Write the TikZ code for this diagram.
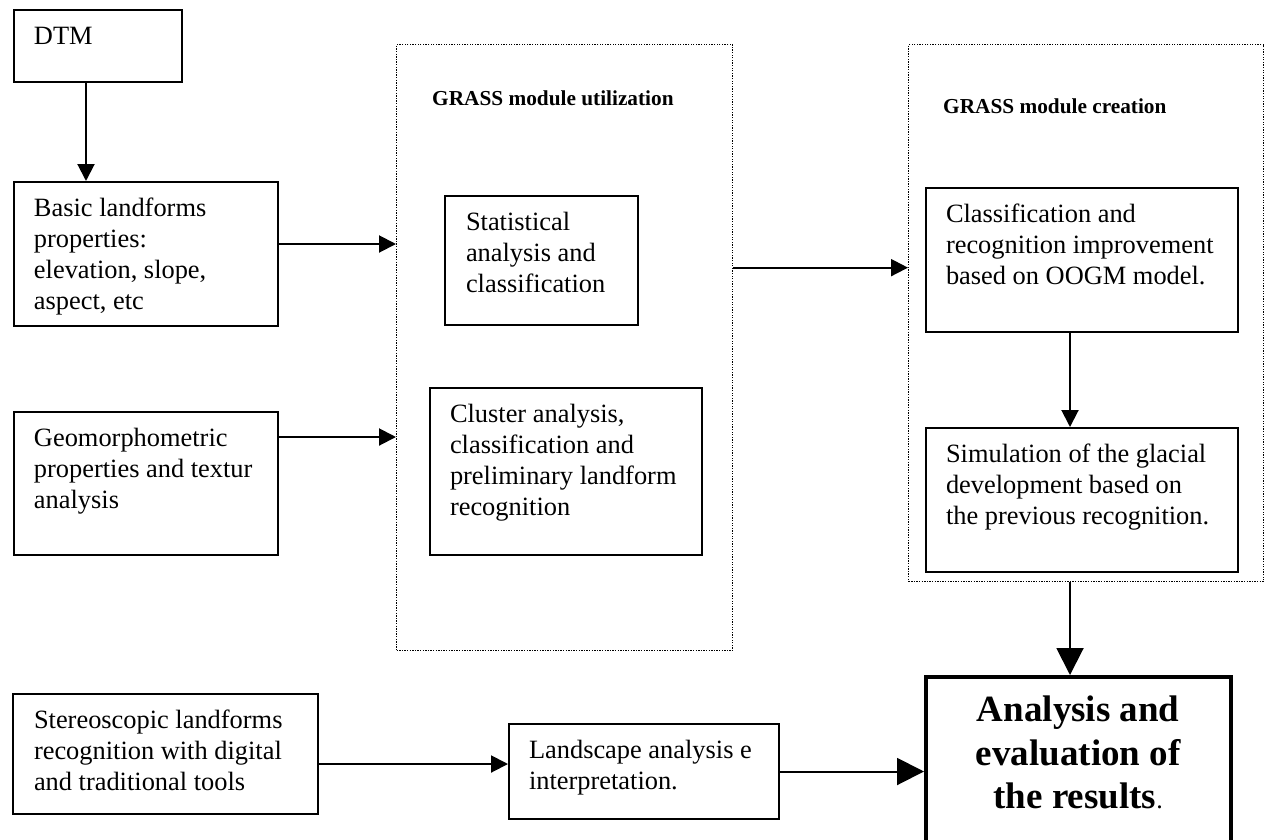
\documentclass[tikz,border=0pt]{standalone}
\usepackage{fontspec}
\setmainfont{Liberation Serif}
\usetikzlibrary{arrows.meta,calc}
\newcommand\bt[4]{\parbox[c][#2pt][t]{#1pt}{\fontsize{26.4pt}{31pt}\selectfont\raggedright\leftskip=#3pt\relax\vspace*{12.3pt}\strut #4}}
\tikzset{
  box/.style={draw, line width=2pt, inner sep=0pt, anchor=north west},
  dotbox/.style={draw, line width=1.3pt, dash pattern=on 1.3pt off 1.3pt, inner sep=0pt, anchor=north west, minimum width=#1},
  titletxt/.style={anchor=base west, inner sep=0pt, font=\fontsize{21.3pt}{24pt}\selectfont\bfseries},
  arr/.style={line width=2pt, -{Triangle[length=17pt,width=17pt]}},
  bigarr/.style={line width=2pt, -{Triangle[length=27pt,width=27pt]}},
}
\begin{document}
\begin{tikzpicture}[x=1pt,y=-1pt]
\clip (0,0) rectangle (1267,839);
\fill[white] (0,0) rectangle (1267,839);
% left column
\node[box] (dtm) at (13,9) {\bt{168}{72}{20}{DTM}};
\node[box] (basic) at (13,181) {\bt{264}{144}{20}{Basic landforms\\properties:\\elevation, slope,\\aspect, etc}};
\node[box] (geo) at (13,411) {\bt{264}{143}{20}{Geomorphometric\\properties and textur\\analysis}};
\node[box] (stereo) at (12,693) {\bt{305}{120}{21}{Stereoscopic landforms\\recognition with digital\\and traditional tools}};
% module utilization
\node[dotbox=336pt, minimum height=606pt] (dot1) at (396,44) {};
\node[titletxt] (t1) at (432,105) {GRASS module utilization};
\node[box] (stat) at (444,195) {\bt{193}{129}{21}{Statistical\\analysis and\\classification}};
\node[box] (cluster) at (429,387) {\bt{272}{167}{20}{Cluster analysis,\\classification and\\preliminary landform\\recognition}};
% module creation
\node[dotbox=355pt, minimum height=537pt] (dot2) at (908,44) {};
\node[titletxt] (t2) at (943,113) {GRASS module creation};
\node[box] (class) at (925,187) {\bt{312}{144}{20}{Classification and\\recognition improvement\\based on OOGM model.}};
\node[box] (sim) at (925,427) {\bt{312}{144}{20}{Simulation of the glacial\\development based on\\the previous recognition.}};
% bottom
\node[box] (land) at (508,723) {\bt{270}{95}{20}{Landscape analysis e\\interpretation.}};
\node[box, line width=3.5pt] (analysis) at (924,675) {\parbox[c][200pt][t]{305pt}{\fontsize{37pt}{43.5pt}\selectfont\centering\vspace*{14.5pt}\strut\textbf{Analysis and\\evaluation of\\the results}{\fontsize{26pt}{30pt}\selectfont.}}};
% connectors
\draw[arr] ([xshift=-12pt]dtm.south) -- ([xshift=-12pt]dtm.south |- basic.north);
\draw[arr] ([yshift=10pt]basic.east) -- ([yshift=10pt]basic.east -| dot1.west);
\draw[arr] ([yshift=46.5pt]geo.east) -- ([yshift=46.5pt]geo.east -| dot1.west);
\draw[arr] ([yshift=80pt]dot1.east) -- ([yshift=80pt]dot1.east -| dot2.west);
\draw[arr] ([xshift=-12pt]class.south) -- ([xshift=-12pt]class.south |- sim.north);
\draw[bigarr] ([xshift=-12pt]class.south |- dot2.south) -- ([xshift=-12pt]class.south |- analysis.north);
\draw[arr] ([yshift=-10pt]stereo.east) -- ([yshift=-10pt]stereo.east -| land.west);
\draw[bigarr] (land.east) -- (land.east -| analysis.west);
\end{tikzpicture}
\end{document}
